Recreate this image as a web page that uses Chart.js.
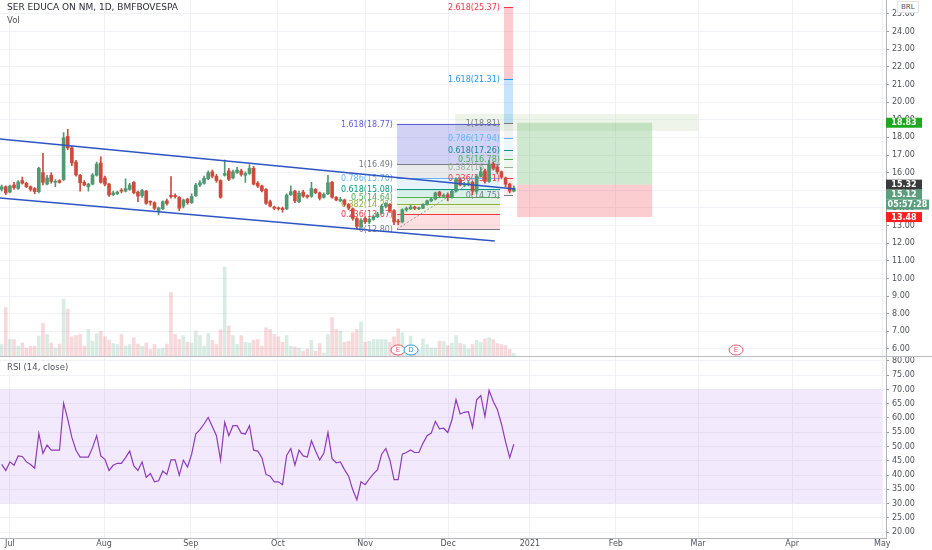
<!DOCTYPE html>
<html>
<head>
<meta charset="utf-8">
<script src="https://cdn.jsdelivr.net/npm/chart.js@4.4.1/dist/chart.umd.min.js"></script>
<style>
  body { margin: 0; background: #fff; font-family: "DejaVu Sans", sans-serif; }
  #wrap { position: relative; width: 932px; height: 550px; overflow: hidden; }
  #pricePane { position: absolute; left: 0; top: 0; width: 932px; height: 357px; }
  #rsiPane { position: absolute; left: 0; top: 357px; width: 932px; height: 193px; }
  #sep { position: absolute; left: 0; top: 356px; width: 932px; height: 1px; background: #b8bbc3; }
  .lbl { position: absolute; color: #50535e; white-space: nowrap; }
  #brl { left: 897px; top: 1px; font-size: 7px; padding: 1px 3px; border: 1px solid #e0e3eb; background: #fff; }
</style>
</head>
<body>
<div id="wrap">
  <div id="pricePane"><canvas id="priceChart"></canvas></div>
  <div id="rsiPane"><canvas id="rsiChart"></canvas></div>
  <div id="sep"></div>
  <div class="lbl" style="left:7px;top:2px;font-size:9px;color:#2a2e39">SER EDUCA ON NM, 1D, BMFBOVESPA</div>
  <div class="lbl" style="left:7px;top:15px;font-size:8.5px">Vol</div>
  <div class="lbl" style="left:7px;top:362px;font-size:8.5px">RSI (14, close)</div>
  <div class="lbl" id="brl">BRL</div>
</div>
<script>
Chart.defaults.font.family = '"DejaVu Sans", sans-serif';
Chart.defaults.font.size = 8;
Chart.defaults.color = '#50535e';

// x is the bar number; future months keep counting weekdays
const monthLabels = ['Jul', 'Aug', 'Sep', 'Oct', 'Nov', 'Dec', '2021', 'Feb', 'Mar', 'Apr', 'May'];
const monthIdx = [2.0, 24.8, 45.8, 66.9, 88.0, 108.1, 127.9, 148.7, 168.6, 191.4, 213.2];
const priceTicks = [6, 7, 8, 9, 10, 11, 12, 13, 14, 15, 16, 17, 18, 19, 20, 21, 22, 23, 24, 25];
const rsiTicks = [20, 25, 30, 35, 40, 45, 50, 55, 60, 65, 70, 75, 80];

// daily candles, Jul 1 - Dec 28 2020
const opens = [
  15.05, 15.20, 14.90, 15.30, 15.10, 15.55, 15.40, 15.20, 15.10, 14.92,
  16.00, 15.35, 15.85, 15.45, 15.55, 15.60, 18.05, 17.40, 16.60, 15.85,
  15.45, 15.20, 15.35, 15.85, 16.55, 15.70, 15.35, 14.75, 14.80, 15.00,
  14.95, 15.05, 15.45, 14.90, 14.70, 14.95, 14.35, 14.30, 13.85, 13.95,
  14.40, 14.72, 14.70, 14.60, 14.10, 14.50, 14.30, 14.70, 15.30, 15.40,
  15.65, 16.05, 15.80, 15.55, 15.85, 16.10, 15.70, 16.00, 16.10, 15.85,
  15.95, 16.25, 15.40, 15.25, 15.05, 14.35, 14.05, 13.98, 13.98, 13.95,
  14.75, 14.95, 14.35, 14.90, 14.70, 14.65, 15.05, 14.85, 14.60, 14.80,
  15.45, 14.60, 14.40, 14.45, 14.20, 13.95, 13.40, 12.95, 13.40, 13.20,
  13.35, 13.50, 13.70, 14.10, 14.20, 13.85, 13.25, 13.20, 13.90, 13.95,
  14.05, 13.95, 13.98, 14.20, 14.40, 14.50, 14.90, 14.65, 14.75, 14.60,
  14.95, 15.60, 15.30, 15.35, 15.45, 14.95, 15.80, 16.10, 15.50, 16.50,
  16.30, 16.05, 15.70, 15.35, 14.95
];
const highs = [
  15.30, 15.25, 15.30, 15.45, 15.55, 15.75, 15.45, 15.25, 15.15, 16.30,
  17.10, 15.85, 16.00, 15.60, 15.60, 18.27, 18.46, 17.50, 16.70, 15.90,
  15.55, 15.40, 15.95, 16.60, 16.90, 15.80, 15.40, 14.95, 14.95, 15.10,
  15.65, 15.40, 15.50, 14.95, 15.05, 15.00, 14.40, 14.35, 14.05, 14.40,
  14.50, 15.77, 14.80, 14.65, 14.50, 14.55, 14.80, 15.40, 15.55, 15.80,
  16.10, 16.15, 15.90, 15.60, 16.72, 16.25, 16.15, 16.30, 16.20, 16.05,
  16.45, 16.35, 15.50, 15.30, 15.10, 14.45, 14.10, 14.05, 14.05, 14.80,
  15.25, 15.00, 14.95, 15.00, 14.75, 15.45, 15.10, 14.90, 14.85, 15.85,
  15.50, 14.65, 14.60, 14.50, 14.25, 14.00, 13.45, 13.40, 13.50, 13.45,
  13.60, 13.75, 14.20, 14.30, 14.25, 13.90, 13.35, 13.95, 14.05, 14.15,
  14.10, 14.05, 14.25, 14.45, 14.60, 14.90, 14.95, 14.80, 14.85, 15.00,
  15.70, 15.70, 15.45, 15.50, 15.50, 15.90, 16.30, 16.20, 16.70, 16.60,
  16.40, 16.10, 15.75, 15.40, 15.25
];
const lows = [
  14.95, 14.75, 14.85, 15.05, 15.05, 15.35, 15.15, 14.95, 14.80, 14.85,
  15.30, 15.30, 15.40, 15.20, 15.40, 15.55, 17.30, 16.40, 15.80, 14.95,
  15.25, 14.95, 15.30, 15.80, 15.40, 15.25, 14.65, 14.70, 14.75, 14.85,
  14.90, 15.00, 14.80, 14.35, 14.60, 14.20, 14.15, 13.90, 13.60, 13.90,
  14.15, 14.55, 14.55, 13.84, 14.00, 14.20, 14.25, 14.65, 15.20, 15.35,
  15.60, 15.70, 15.45, 14.55, 15.80, 15.55, 15.65, 15.95, 15.80, 15.45,
  15.90, 15.30, 15.15, 14.90, 14.20, 14.05, 13.90, 13.88, 13.75, 13.90,
  14.70, 14.30, 14.30, 14.60, 14.55, 14.60, 14.80, 14.45, 14.55, 14.75,
  14.55, 14.40, 14.35, 14.10, 13.90, 13.30, 12.80, 12.85, 13.10, 13.10,
  13.30, 13.45, 13.65, 14.00, 13.75, 13.05, 13.05, 13.15, 13.80, 13.90,
  13.90, 13.90, 13.95, 14.15, 14.35, 14.45, 14.60, 14.60, 14.40, 14.55,
  14.90, 15.25, 15.20, 15.25, 14.75, 14.80, 15.75, 15.40, 15.45, 16.15,
  15.95, 15.65, 15.20, 14.85, 14.90
];
const closes = [
  15.20, 14.85, 15.24, 15.15, 15.47, 15.40, 15.20, 15.05, 14.92, 16.25,
  15.45, 15.70, 15.50, 15.50, 15.45, 17.97, 17.40, 16.55, 15.87, 15.43,
  15.30, 15.35, 15.87, 16.49, 15.45, 15.34, 14.73, 14.85, 14.90, 14.95,
  15.10, 15.30, 14.86, 14.67, 14.98, 14.26, 14.32, 13.98, 14.00, 14.35,
  14.25, 14.64, 14.64, 13.98, 14.45, 14.30, 14.65, 15.30, 15.43, 15.68,
  16.00, 15.80, 15.55, 14.60, 15.95, 15.62, 16.05, 16.15, 15.90, 15.95,
  16.25, 15.35, 15.24, 14.98, 14.26, 14.10, 13.98, 13.95, 13.90, 14.73,
  14.92, 14.40, 14.83, 14.67, 14.62, 15.10, 14.86, 14.55, 14.77, 15.43,
  14.60, 14.45, 14.48, 14.20, 13.98, 13.40, 12.95, 13.30, 13.22, 13.35,
  13.50, 13.65, 14.10, 14.25, 13.85, 13.20, 13.20, 13.90, 13.97, 14.05,
  13.98, 13.98, 14.20, 14.40, 14.50, 14.85, 14.70, 14.72, 14.62, 14.95,
  15.60, 15.30, 15.35, 15.38, 14.95, 15.80, 16.05, 15.50, 16.45, 16.25,
  16.05, 15.75, 15.35, 14.95, 15.12
];
// volume, thousands of shares
const volumes = [
  250, 990, 350, 350, 215, 280, 180, 215, 215, 420,
  675, 450, 280, 180, 260, 1160, 955, 405, 430, 450,
  215, 550, 315, 470, 510, 405, 335, 270, 250, 450,
  215, 250, 385, 260, 215, 280, 150, 250, 160, 180,
  260, 1290, 450, 350, 430, 295, 280, 520, 430, 215,
  470, 335, 250, 540, 1800, 620, 430, 250, 430, 295,
  280, 335, 350, 215, 585, 550, 450, 405, 295, 430,
  215, 200, 180, 115, 160, 335, 115, 270, 80, 450,
  790, 550, 520, 295, 315, 485, 550, 700, 295, 315,
  350, 350, 350, 350, 295, 405, 565, 485, 215, 420,
  180, 150, 365, 250, 180, 180, 315, 315, 230, 280,
  430, 270, 250, 160, 250, 335, 295, 365, 385, 350,
  270, 250, 230, 150, 70
];
const rsi = [
  43.7, 41.6, 44.6, 43.4, 46.7, 46.5, 44.6, 43.7, 42.4, 54.6,
  47.6, 50.5, 48.7, 48.7, 48.7, 65.2, 59.6, 53.2, 48.7, 46.3,
  46.3, 46.3, 49.6, 53.8, 46.7, 45.5, 41.6, 43.4, 44.1, 44.1,
  46.1, 48.4, 43.2, 41.6, 44.6, 39.2, 40.5, 37.6, 38.0, 41.4,
  40.2, 45.3, 45.3, 39.9, 45.2, 42.8, 47.3, 54.4, 55.9, 57.9,
  60.2, 57.0, 53.8, 45.2, 58.5, 53.8, 57.3, 57.3, 54.7, 54.4,
  57.3, 48.7, 48.4, 46.1, 40.2, 39.6, 37.6, 37.6, 36.6, 46.9,
  49.3, 43.5, 48.7, 46.7, 46.3, 52.0, 48.4, 45.3, 47.6, 54.9,
  45.7, 44.3, 44.6, 41.9, 39.6, 34.8, 31.3, 37.6, 36.6, 38.6,
  40.4, 41.9, 47.3, 49.3, 45.2, 38.4, 38.4, 47.3, 47.9, 48.8,
  47.9, 47.9, 51.1, 53.8, 54.7, 58.8, 56.2, 56.4, 54.9, 59.3,
  66.5, 61.4, 62.0, 62.2, 56.7, 66.4, 67.9, 60.5, 69.7, 65.9,
  63.0, 57.9, 51.6, 46.1, 50.8
];
const rsiBand = [30, 70];

// drawings, as [bar, price]
const channelUpper = [[-0.4, 17.91], [124.3, 15.07]];
const channelLower = [[-0.4, 14.56], [119.4, 12.12]];

const fib1Ratios = [0, 0.236, 0.382, 0.5, 0.618, 0.786, 1, 1.618];
const fib1Prices = [12.80, 13.67, 14.21, 14.64, 15.08, 15.70, 16.49, 18.77];
const fib1Colors = ['#787b86', '#f23645', '#8fb33a', '#4caf50', '#089981', '#64b5f6', '#787b86', '#5b5fd6'];
const fib1Span = [95.7, 120.65];
const fib1Trend = [[95.7, 12.80], [120.65, 16.49]];

const fib2Ratios = [0, 0.236, 0.382, 0.5, 0.618, 0.786, 1, 1.618, 2.618];
const fib2Prices = [14.75, 15.71, 16.30, 16.78, 17.26, 17.94, 18.81, 21.31, 25.37];
const fib2Colors = ['#787b86', '#f23645', '#9aae9a', '#4caf50', '#1a8a93', '#64b5f6', '#787b86', '#2196f3', '#f23645'];
const fib2Span = [121.6, 123.8];

const zoneSpan = [109.8, 168.6];
const zonePrices = [18.36, 19.33];

const longSpan = [124.8, 157.5];
const longStop = 13.48, longEntry = 15.32, longTarget = 18.83;

const eventIdx = [95.95, 99.1, 177.8];
const eventText = ['E', 'D', 'E'];
const eventColors = ['#e0556b', '#2f96e8', '#e0556b'];

const markValues = [18.83, 15.32, 15.12, 13.48];
const markColors = ['#1ea81e', '#3b3b3b', '#5b9e7e', '#ff1f1f'];
const countdown = '05:57:28';

const X_MIN = -0.4, X_MAX = 214.1;
const AXIS_W = 46;
const UP = '#4f9a72', DOWN = '#cd4b3c';
const bars = closes.map((_, i) => i);
const isUp = i => closes[i] >= opens[i];

function rgba(hex, a) {
  const n = parseInt(hex.slice(1), 16);
  return 'rgba(' + (n >> 16) + ',' + ((n >> 8) & 255) + ',' + (n & 255) + ',' + a + ')';
}

function monthAxis(s) { s.ticks = monthIdx.map(v => ({ value: v })); }

// right-hand value axis: fixed width, no extra room above/below the end labels
function fitValueAxis(s) {
  s.width = AXIS_W;
  s.paddingTop = 0;
  s.paddingBottom = 0;
}

function drawFib(ctx, x, y, span, ratios, prices, colors, alphaFn) {
  const x0 = x.getPixelForValue(span[0]), x1 = x.getPixelForValue(span[1]);
  for (let k = 1; k < prices.length; k++) {
    const yTop = y.getPixelForValue(prices[k]), yBot = y.getPixelForValue(prices[k - 1]);
    ctx.fillStyle = rgba(colors[k], alphaFn(k));
    ctx.fillRect(x0, yTop, x1 - x0, yBot - yTop);
  }
  ctx.lineWidth = 1;
  ctx.font = '8px "DejaVu Sans"';
  ctx.textAlign = 'right';
  ctx.textBaseline = 'middle';
  prices.forEach((p, k) => {
    const yy = Math.round(y.getPixelForValue(p)) + 0.5;
    ctx.strokeStyle = colors[k];
    ctx.beginPath(); ctx.moveTo(x0, yy); ctx.lineTo(x1, yy); ctx.stroke();
    ctx.fillStyle = colors[k];
    ctx.fillText(ratios[k] + '(' + p.toFixed(2) + ')', x0 - 4, yy);
  });
}

const drawingsPlugin = {
  id: 'drawings',
  beforeDatasetsDraw(chart) {
    const { ctx, chartArea: a, scales: { x, y } } = chart;
    ctx.save();
    ctx.beginPath(); ctx.rect(a.left, a.top, a.width, a.height); ctx.clip();

    // zone around the 18.81 level
    const zx0 = x.getPixelForValue(zoneSpan[0]), zx1 = x.getPixelForValue(zoneSpan[1]);
    const zy0 = y.getPixelForValue(zonePrices[1]), zy1 = y.getPixelForValue(zonePrices[0]);
    ctx.fillStyle = 'rgba(178,204,160,0.22)';
    ctx.fillRect(zx0, zy0, zx1 - zx0, zy1 - zy0);

    drawFib(ctx, x, y, fib1Span, fib1Ratios, fib1Prices, fib1Colors, k => (k === 7 ? 0.28 : 0.16));
    drawFib(ctx, x, y, fib2Span, fib2Ratios, fib2Prices, fib2Colors, k => (k >= 7 ? 0.26 : 0.1));

    // long position box
    const lx0 = x.getPixelForValue(longSpan[0]), lx1 = x.getPixelForValue(longSpan[1]);
    const yT = y.getPixelForValue(longTarget), yE = y.getPixelForValue(longEntry), yS = y.getPixelForValue(longStop);
    ctx.fillStyle = 'rgba(76,175,80,0.27)';
    ctx.fillRect(lx0, yT, lx1 - lx0, yE - yT);
    ctx.fillStyle = 'rgba(242,54,69,0.25)';
    ctx.fillRect(lx0, yE, lx1 - lx0, yS - yE);

    // fib anchor line
    ctx.setLineDash([2, 2]);
    ctx.strokeStyle = '#9598a1';
    ctx.beginPath();
    ctx.moveTo(x.getPixelForValue(fib1Trend[0][0]), y.getPixelForValue(fib1Trend[0][1]));
    ctx.lineTo(x.getPixelForValue(fib1Trend[1][0]), y.getPixelForValue(fib1Trend[1][1]));
    ctx.stroke();
    ctx.restore();
  },
  afterDatasetsDraw(chart) {
    const { ctx, chartArea: a, scales: { x } } = chart;
    ctx.save();
    ctx.font = '7px "DejaVu Sans"';
    ctx.textAlign = 'center';
    ctx.textBaseline = 'middle';
    eventIdx.forEach((v, k) => {
      const cx = x.getPixelForValue(v), cy = a.bottom - 7;
      ctx.beginPath();
      ctx.ellipse(cx, cy, 7, 5, 0, 0, Math.PI * 2);
      ctx.fillStyle = '#fff'; ctx.fill();
      ctx.strokeStyle = eventColors[k]; ctx.lineWidth = 1; ctx.stroke();
      ctx.fillStyle = eventColors[k];
      ctx.fillText(eventText[k], cx, cy + 0.5);
    });
    ctx.restore();
  },
  afterDraw(chart) {
    const { ctx, chartArea: a, scales: { y } } = chart;
    ctx.save();
    ctx.font = 'bold 8px "DejaVu Sans"';
    ctx.textAlign = 'center';
    ctx.textBaseline = 'middle';
    const h = 10;
    let last = -100;
    markValues.forEach((v, k) => {
      let cy = y.getPixelForValue(v);
      if (cy - h / 2 < last) cy = last + h / 2;
      ctx.fillStyle = markColors[k];
      ctx.fillRect(a.right, cy - h / 2, 36, h);
      ctx.fillStyle = '#fff';
      ctx.fillText(v.toFixed(2), a.right + 18, cy + 0.5);
      last = cy + h / 2;
      if (k === 2) {
        const cy2 = last + h / 2;
        ctx.fillStyle = markColors[k];
        ctx.fillRect(a.right, cy2 - h / 2, 43, h);
        ctx.fillStyle = '#fff';
        ctx.fillText(countdown, a.right + 21.5, cy2 + 0.5);
        last = cy2 + h / 2;
      }
    });
    ctx.restore();
  }
};

new Chart(document.getElementById('priceChart'), {
  type: 'bar',
  data: {
    datasets: [
      {
        label: 'Vol', yAxisID: 'vol', order: 5, grouped: false, barThickness: 3,
        data: bars.map(i => ({ x: i, y: volumes[i] })),
        backgroundColor: c => (isUp(c.dataIndex) ? 'rgba(83,170,130,0.22)' : 'rgba(225,80,90,0.22)')
      },
      {
        label: 'wick', yAxisID: 'y', order: 3, grouped: false, barThickness: 1,
        data: bars.map(i => ({ x: i, y: [lows[i], highs[i]] })),
        backgroundColor: c => (isUp(c.dataIndex) ? UP : DOWN)
      },
      {
        label: 'body', yAxisID: 'y', order: 2, grouped: false, barThickness: 3, minBarLength: 1,
        data: bars.map(i => ({ x: i, y: [opens[i], closes[i]] })),
        backgroundColor: c => (isUp(c.dataIndex) ? UP : DOWN)
      },
      {
        type: 'line', label: 'upper', yAxisID: 'y', order: 1,
        data: channelUpper.map(p => ({ x: p[0], y: p[1] })),
        borderColor: '#2d55c4', borderWidth: 1.5, pointRadius: 0
      },
      {
        type: 'line', label: 'lower', yAxisID: 'y', order: 1,
        data: channelLower.map(p => ({ x: p[0], y: p[1] })),
        borderColor: '#2d55c4', borderWidth: 1.5, pointRadius: 0
      }
    ]
  },
  options: {
    animation: false,
    responsive: true,
    maintainAspectRatio: false,
    layout: { padding: 0 },
    plugins: { legend: { display: false }, tooltip: { enabled: false } },
    scales: {
      x: {
        type: 'linear', min: X_MIN, max: X_MAX, offset: false,
        afterBuildTicks: monthAxis,
        ticks: { display: false, padding: 0 },
        grid: { color: '#eef0f4', drawTicks: false, offset: false },
        border: { display: false },
        afterFit: s => { s.height = 0; }
      },
      y: {
        position: 'right', min: 5.545, max: 25.79,
        afterBuildTicks: s => { s.ticks = priceTicks.map(v => ({ value: v })); },
        ticks: { callback: v => v.toFixed(2), padding: 3 },
        grid: { color: '#f1f2f5', tickColor: '#9598a1', tickLength: 3 },
        border: { color: '#b2b5be' },
        afterFit: fitValueAxis
      },
      vol: { display: false, min: 0, max: 7140 }
    }
  },
  plugins: [drawingsPlugin]
});

const rsiBandPlugin = {
  id: 'rsiBand',
  beforeDatasetsDraw(chart) {
    const { ctx, chartArea: a, scales: { y } } = chart;
    const y0 = y.getPixelForValue(rsiBand[1]), y1 = y.getPixelForValue(rsiBand[0]);
    ctx.save();
    ctx.fillStyle = 'rgba(150,82,230,0.12)';
    ctx.fillRect(a.left, y0, a.width - 4, y1 - y0);
    ctx.restore();
  }
};

new Chart(document.getElementById('rsiChart'), {
  type: 'line',
  data: {
    datasets: [{
      label: 'RSI',
      data: bars.map(i => ({ x: i, y: rsi[i] })),
      borderColor: '#8e3bb8', borderWidth: 1.2, pointRadius: 0, tension: 0
    }]
  },
  options: {
    animation: false,
    responsive: true,
    maintainAspectRatio: false,
    layout: { padding: 0 },
    plugins: { legend: { display: false }, tooltip: { enabled: false } },
    scales: {
      x: {
        type: 'linear', min: X_MIN, max: X_MAX, offset: false,
        afterBuildTicks: monthAxis,
        ticks: { callback: (v, i) => monthLabels[i], autoSkip: false, maxRotation: 0, padding: 1 },
        grid: { color: '#eef0f4', drawTicks: false },
        border: { color: '#b2b5be' },
        afterFit: s => { s.height = 12; }
      },
      y: {
        position: 'right', min: 17.9, max: 81.4,
        afterBuildTicks: s => { s.ticks = rsiTicks.map(v => ({ value: v })); },
        ticks: { callback: v => v.toFixed(2), padding: 3 },
        grid: { color: '#f1f2f5', tickColor: '#9598a1', tickLength: 3 },
        border: { color: '#b2b5be' },
        afterFit: fitValueAxis
      }
    }
  },
  plugins: [rsiBandPlugin]
});
</script>
</body>
</html>
